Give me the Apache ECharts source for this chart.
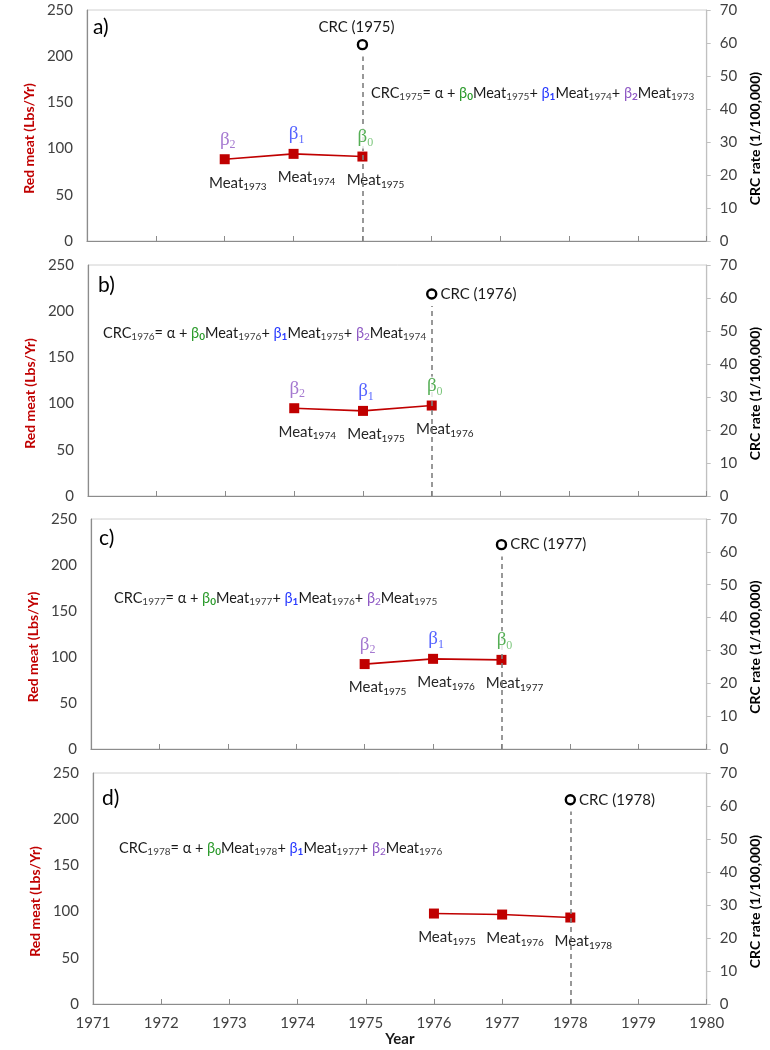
<!DOCTYPE html>
<html lang="en">
<head>
<meta charset="UTF-8">
<script src="https://cdn.jsdelivr.net/npm/echarts@6/dist/echarts.min.js"></script>
<title>Red meat vs CRC lag model</title>
<style>html,body{margin:0;padding:0;background:#fff}</style>
</head>
<body>
<div id="main" style="width:770px;height:1050px"></div>
<script>
// data
var panelNames = ['a)', 'b)', 'c)', 'd)'];
var crcYears = [1975, 1976, 1977, 1978];
var crcRates = [59.5, 61.2, 62.2, 61.9];

var meatYearsA = [1973, 1974, 1975];
var meatA = [88.5, 94.3, 91.4];
var meatTagsA = ['1973', '1974', '1975'];

var meatYearsB = [1974, 1975, 1976];
var meatB = [95.0, 92.1, 97.9];
var meatTagsB = ['1974', '1975', '1976'];

var meatYearsC = [1975, 1976, 1977];
var meatC = [92.3, 98.0, 96.9];
var meatTagsC = ['1975', '1976', '1977'];

var meatYearsD = [1976, 1977, 1978];
var meatD = [97.9, 96.8, 93.6];
var meatTagsD = ['1975', '1976', '1978'];  // as printed in the original

var betaTags = ['2', '1', '0'];

var panels = [
    { years: meatYearsA, meat: meatA, tags: meatTagsA, beta: true },
    { years: meatYearsB, meat: meatB, tags: meatTagsB, beta: true },
    { years: meatYearsC, meat: meatC, tags: meatTagsC, beta: true },
    { years: meatYearsD, meat: meatD, tags: meatTagsD, beta: false }
];

var SANS = 'Lato';
var SERIF = 'Liberation Serif';
var PURPLE = '#8e58c4', BLUE = '#2a3cff', GREEN = '#2b9a2b';

// grid boxes (px)
var boxes = [
    { left: 87, right: 63, top: 10, height: 231 },
    { left: 88, right: 60, top: 265, height: 231 },
    { left: 91, right: 58, top: 519, height: 230 },
    { left: 93, right: 57, top: 773, height: 231 }
];
var formulaPos = [[371, 84], [103, 324], [114, 589], [119, 839]];
var letterPos = [[93, 17], [98, 275], [99, 528], [102, 788]];

// rich styles for series labels (echarts keys)
var subStyle = function (color, size, pad, bold) {
    return { fontFamily: SANS, fontSize: size, color: color, lineHeight: size,
             verticalAlign: 'bottom', padding: [pad, 0, 0, 0], fontWeight: bold ? 'bold' : 'normal' };
};
var mainStyle = function (color, size, family) {
    return { fontFamily: family || SANS, fontSize: size, color: color, lineHeight: size + 2, verticalAlign: 'top' };
};
// same for graphic text (zrender wants fill)
var gSub = function (color, bold) {
    return { fontFamily: SANS, fontSize: 10, fill: color, lineHeight: 10, verticalAlign: 'bottom',
             padding: [8, 0, 0, 0], fontWeight: bold ? 'bold' : 'normal' };
};
var gMain = function (color) {
    return { fontFamily: SANS, fontSize: 14.5, fill: color, lineHeight: 16.5, verticalAlign: 'top' };
};

var grids = [], xAxes = [], yAxes = [], series = [], graphics = [];

panels.forEach(function (pn, i) {
    var b = boxes[i];
    grids.push({ left: b.left, right: b.right, top: b.top, height: b.height,
                 show: true, borderColor: '#d0d0d0', borderWidth: 1 });
    var last = i === panels.length - 1;
    xAxes.push({
        type: 'value', gridIndex: i, min: 1971, max: 1980, interval: 1,
        axisLine: { show: true, onZero: false, lineStyle: { color: '#8c8c8c', width: 1.2 } },
        axisTick: { show: true, inside: true, length: 5, lineStyle: { color: '#8c8c8c' } },
        splitLine: { show: false },
        axisLabel: { show: last, margin: 12, fontFamily: SANS, fontSize: 15, color: '#404040',
                     formatter: function (v) { return String(v); } },
        name: last ? 'Year' : '', nameLocation: 'middle', nameGap: 28,
        nameTextStyle: { fontFamily: SANS, fontSize: 15, fontWeight: 'bold', color: '#1a1a1a' }
    });
    yAxes.push({
        type: 'value', gridIndex: i, position: 'left', min: 0, max: 250, interval: 50,
        axisLine: { show: true, lineStyle: { color: '#8c8c8c', width: 1.2 } },
        axisTick: { show: false }, splitLine: { show: false },
        axisLabel: { margin: 14, fontFamily: SANS, fontSize: 15, color: '#404040' },
        name: 'Red meat (Lbs/Yr)', nameLocation: 'middle', nameGap: 40,
        nameTextStyle: { fontFamily: SANS, fontSize: 14, fontWeight: 'bold', color: '#c00000', padding: [0, 26, 0, 0] }
    });
    yAxes.push({
        type: 'value', gridIndex: i, position: 'right', min: 0, max: 70, interval: 10,
        axisLine: { show: true, lineStyle: { color: '#c0c0c0', width: 1.2 } },
        axisTick: { show: true, length: 4, lineStyle: { color: '#c0c0c0' } }, splitLine: { show: false },
        axisLabel: { margin: 13, fontFamily: SANS, fontSize: 15, color: '#404040' },
        name: 'CRC rate (1/100,000)', nameLocation: 'middle', nameGap: 38,
        nameTextStyle: { fontFamily: SANS, fontSize: 14, fontWeight: 'bold', color: '#000', padding: [0, 26, 0, 0] }
    });

    var pts = pn.years.map(function (y, k) { return [y, pn.meat[k]]; });

    // CRC point with dashed drop line
    series.push({
        type: 'scatter', xAxisIndex: i, yAxisIndex: 2 * i + 1, z: 2,
        data: [[crcYears[i], crcRates[i]]],
        symbol: 'circle', symbolSize: 9,
        itemStyle: { color: '#fff', borderColor: '#000', borderWidth: 2.4, opacity: 1 },
        label: {
            show: true, position: i === 0 ? 'top' : 'right', distance: i === 0 ? 4 : 3,
            offset: i === 0 ? [-6, 0] : [0, 0],
            formatter: 'CRC (' + crcYears[i] + ')', fontFamily: SANS, fontSize: 15, color: '#1a1a1a'
        },
        markLine: {
            silent: true, symbol: ['none', 'none'], label: { show: false },
            lineStyle: { color: '#7f7f7f', type: [5, 4], width: 1.6, opacity: 1 },
            data: [[{ coord: [crcYears[i], 0] }, { coord: [crcYears[i], crcRates[i] - 3.6] }]]
        }
    });

    // meat line
    series.push({
        type: 'line', xAxisIndex: i, yAxisIndex: 2 * i, z: 4,
        data: pts, symbol: 'rect', symbolSize: 10,
        lineStyle: { color: '#c00000', width: 1.6 }, itemStyle: { color: '#c00000' },
        label: {
            show: true, position: 'bottom', distance: 11, offset: [13, 0],
            backgroundColor: '#fff', padding: [0, 1],
            formatter: function (p) { return '{m|Meat}{s|' + pn.tags[p.dataIndex] + '}'; },
            rich: { m: mainStyle('#262626', 15), s: subStyle('#262626', 10, 8) }
        }
    });

    // beta tags above points
    if (pn.beta) {
        series.push({
            type: 'scatter', xAxisIndex: i, yAxisIndex: 2 * i, z: 5,
            data: pts, symbolSize: 10, itemStyle: { color: 'transparent' }, silent: true,
            label: {
                show: true, position: 'top', distance: 3, offset: [3, 0],
                backgroundColor: '#fff',
                formatter: function (p) { return '{b' + p.dataIndex + '|β}{s' + p.dataIndex + '|' + betaTags[p.dataIndex] + '}'; },
                rich: {
                    b0: mainStyle(PURPLE, 19, SERIF), s0: { fontFamily: SERIF, fontSize: 12, color: PURPLE, lineHeight: 12, verticalAlign: 'bottom', padding: [9, 0, 0, 0] },
                    b1: mainStyle(BLUE, 19, SERIF), s1: { fontFamily: SERIF, fontSize: 12, color: BLUE, lineHeight: 12, verticalAlign: 'bottom', padding: [9, 0, 0, 0] },
                    b2: mainStyle(GREEN, 19, SERIF), s2: { fontFamily: SERIF, fontSize: 12, color: '#5cb85c', lineHeight: 12, verticalAlign: 'bottom', padding: [9, 0, 0, 0] }
                }
            }
        });
    }

    // regression formula and panel letter
    var yr = crcYears[i];
    var f = '{t|CRC}{s|' + yr + '}{t|= α + }{g|β}{gs|0}{t|Meat}{s|' + yr + '}{t|+ }' +
            '{b|β}{bs|1}{t|Meat}{s|' + (yr - 1) + '}{t|+ }{p|β}{ps|2}{t|Meat}{s|' + (yr - 2) + '}';
    graphics.push({
        type: 'text', left: formulaPos[i][0], top: formulaPos[i][1], z: 10,
        style: {
            text: f,
            rich: {
                t: gMain('#1a1a1a'), s: gSub('#404040'),
                g: gMain(GREEN), gs: gSub(GREEN, true),
                b: gMain(BLUE), bs: gSub(BLUE, true),
                p: gMain(PURPLE), ps: gSub(PURPLE, i === 0)
            }
        }
    });
    graphics.push({
        type: 'text', left: letterPos[i][0], top: letterPos[i][1], z: 10,
        style: { text: panelNames[i], font: '21px ' + SANS, fill: '#000' }
    });
});

var chart = echarts.init(document.getElementById('main'));
chart.setOption({
    animation: false,
    backgroundColor: '#fff',
    grid: grids, xAxis: xAxes, yAxis: yAxes,
    series: series, graphic: graphics
});
</script>
</body>
</html>
